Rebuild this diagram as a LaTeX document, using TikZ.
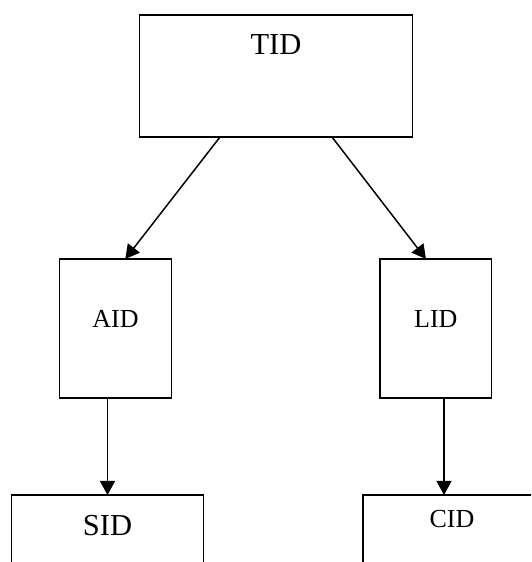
\documentclass[tikz,border=0pt]{standalone}
\usepackage{fontspec}
\setmainfont{Liberation Serif}
\usetikzlibrary{positioning}
\usetikzlibrary{arrows.meta}

\begin{document}
\begin{tikzpicture}[x=1pt, y=1pt,
  idbox/.style={draw, line width=1.5pt, inner sep=0pt, outer sep=0pt},
  arr/.style={line width=1.5pt, -{Triangle[length=14pt,width=15pt]}},
  big/.style={font=\fontsize{30.5}{36}\selectfont},
  small/.style={font=\fontsize{26}{31}\selectfont}]
\useasboundingbox (0,0) rectangle (531,562);
\clip (0,0) rectangle (531,562);
\node[idbox, minimum width=273pt, minimum height=122pt,
  label={[big, anchor=base, yshift=-40pt]north:TID}] (tid) at (276,486) {};
\node[idbox, below=122pt of tid, xshift=-160.5pt, minimum width=112.4pt, minimum height=139pt,
  label={[small, anchor=base, yshift=-69pt]north:AID}] (aid) {};
 \draw[arr] ([xshift=80.5pt]tid.south west) -- ([xshift=66pt]aid.north west);
\node[idbox, below=122pt of tid, xshift=159.8pt, minimum width=111.7pt, minimum height=139pt,
  label={[small, anchor=base, yshift=-69pt]north:LID}] (lid) {};
 \draw[arr] ([xshift=192.5pt]tid.south west) -- ([xshift=46pt]lid.north west);
\node[idbox, below=97pt of aid, xshift=-8pt, minimum width=191.6pt, minimum height=110pt,
  label={[big, anchor=base, yshift=-41pt]north:SID}] (sid) {};
 \draw[arr] (aid.south -| sid.north) -- (sid.north);
\node[idbox, below=97pt of lid, xshift=16.2pt, minimum width=178pt, minimum height=110pt,
  label={[small, anchor=base, yshift=-33pt]north:CID}] (cid) {};
 \draw[arr] ([xshift=-8pt]cid.north |- lid.south) -- ([xshift=-8pt]cid.north);
\end{tikzpicture}
\end{document}
